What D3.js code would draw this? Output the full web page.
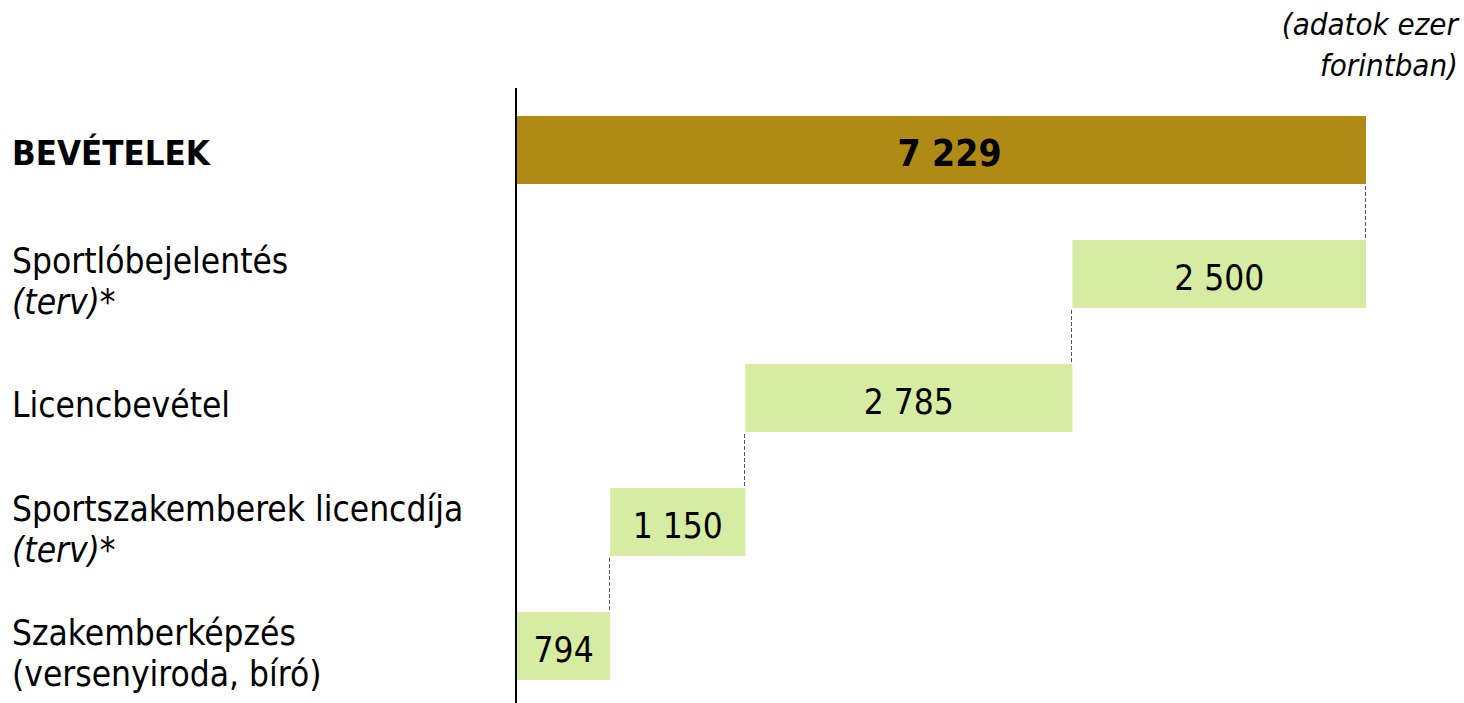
<!DOCTYPE html>
<html><head><meta charset="utf-8">
<script src="https://cdn.jsdelivr.net/npm/d3@7"></script>
<style>body{margin:0;background:#fff}</style>
</head><body>
<svg id="c" width="1464" height="703"></svg>
<script>
// ---- data ----
const categories = ["BEVÉTELEK","Sportlóbejelentés","Licencbevétel","Sportszakemberek licencdíja","Szakemberképzés"];
const labelLines = [
  [{t:"BEVÉTELEK", bold:true}],
  [{t:"Sportlóbejelentés"},{t:"(terv)*", italic:true}],
  [{t:"Licencbevétel"}],
  [{t:"Sportszakemberek licencdíja"},{t:"(terv)*", italic:true}],
  [{t:"Szakemberképzés"},{t:"(versenyiroda, bíró)"}]
];
const values = [7229, 2500, 2785, 1150, 794];
const isTotal = [true, false, false, false, false];
const valueLabels = ["7 229","2 500","2 785","1 150","794"];
const unitNote = ["(adatok ezer","forintban)"];

// ---- compute waterfall spans (components stacked from bottom up) ----
const spans = new Array(values.length);
let cum = 0;
for (let i = values.length - 1; i >= 1; i--) {
  spans[i] = [cum, cum + values[i]];
  cum += values[i];
}
spans[0] = [0, values[0]];

const W = 1464, H = 703;
const svg = d3.select("#c");
const FONT = '"DejaVu Sans Condensed","DejaVu Sans",sans-serif';

const x = d3.scaleLinear().domain([0, values[0]]).range([517, 1366]);
const y = d3.scaleBand().domain(categories).range([88, 708])
  .paddingInner(56/124).paddingOuter(28/124);

// connectors
const conn = [];
for (let i = 0; i < values.length - 1; i++) {
  const xv = isTotal[i] ? spans[0][1] : spans[i][0];
  conn.push({xv, y1: y(categories[i]) + y.bandwidth(), y2: y(categories[i+1])});
}
svg.append("g").selectAll("line").data(conn).join("line")
  .attr("x1", d => Math.round(x(d.xv)) - 0.5).attr("x2", d => Math.round(x(d.xv)) - 0.5)
  .attr("y1", d => d.y1 + 2).attr("y2", d => d.y2)
  .attr("stroke", "#555").attr("stroke-width", 1).attr("stroke-dasharray", "4,2");

// bars
svg.append("g").selectAll("rect").data(categories).join("rect")
  .attr("x", (d,i) => x(spans[i][0]))
  .attr("width", (d,i) => x(spans[i][1]) - x(spans[i][0]))
  .attr("y", d => y(d)).attr("height", y.bandwidth())
  .attr("fill", (d,i) => isTotal[i] ? "#AF8A15" : "#D6ECA3");

// value labels
svg.append("g").selectAll("text").data(categories).join("text")
  .attr("x", (d,i) => (x(spans[i][0]) + x(spans[i][1])) / 2 + (isTotal[i] ? 8 : 0))
  .attr("y", d => y(d) + y.bandwidth()/2 + 16)
  .attr("text-anchor", "middle")
  .style("font-family", FONT)
  .style("font-size", (d,i) => isTotal[i] ? "37px" : "35px")
  .style("font-weight", (d,i) => isTotal[i] ? "bold" : "normal")
  .attr("fill", "#000")
  .text((d,i) => valueLabels[i]);

// axis line
svg.append("line").attr("x1", 516).attr("x2", 516).attr("y1", 88).attr("y2", H)
  .attr("stroke", "#000").attr("stroke-width", 2);

// category labels
const LS = 41;
const lg = svg.append("g");
categories.forEach((c, i) => {
  const lines = labelLines[i];
  const cy = y(c) + y.bandwidth()/2;
  const base = lines.length === 1 ? cy + (lines[0].bold ? 15 : 19) : cy - 1.5;
  const t = lg.append("text").attr("x", 12).attr("y", base)
    .style("font-family", FONT).attr("fill", "#000");
  lines.forEach((ln, k) => {
    t.append("tspan").attr("x", 12).attr("y", base + k*LS)
      .style("font-size", ln.bold ? "34.6px" : "35px")
      .style("font-weight", ln.bold ? "bold" : "normal")
      .style("font-style", ln.italic ? "italic" : "normal")
      .text(ln.t);
  });
});

// unit note
const nt = svg.append("text").attr("text-anchor", "end")
  .style("font-family", FONT).style("font-style", "italic").style("font-size", "31px").attr("fill", "#000");
unitNote.forEach((s, k) => nt.append("tspan").attr("x", 1458).attr("y", 35 + k*41).text(s));
</script>
</body></html>
